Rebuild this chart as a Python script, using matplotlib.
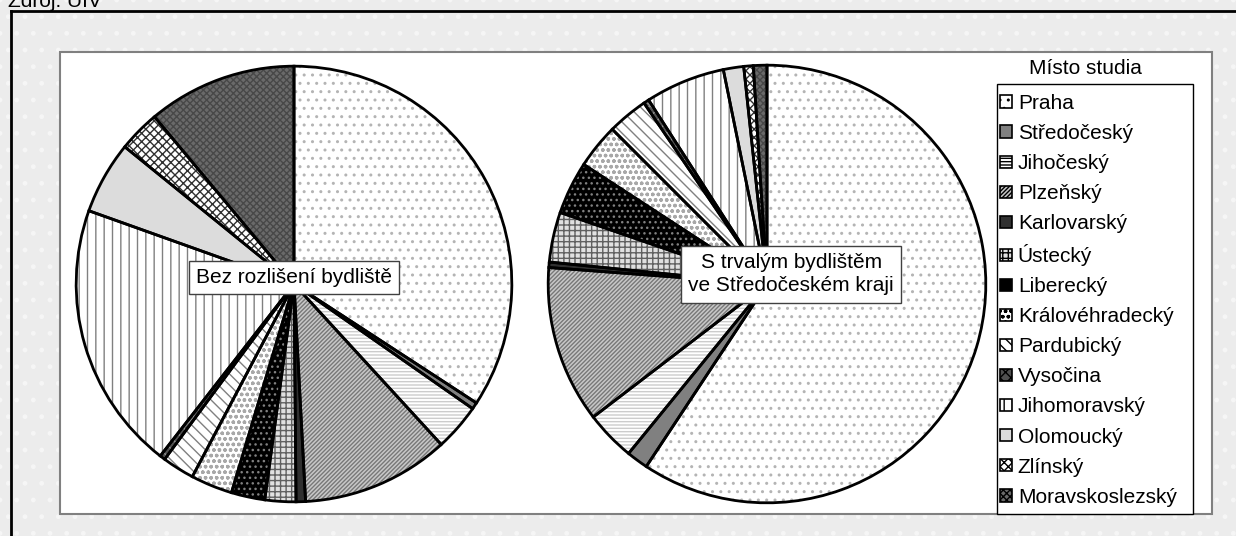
import matplotlib.pyplot as plt
from matplotlib.patches import Rectangle, Patch
from matplotlib.lines import Line2D

plt.rcParams['font.family'] = ['Liberation Sans', 'DejaVu Sans']
plt.rcParams['hatch.linewidth'] = 1.0

# regions (Místo studia)
regions = ['Praha', 'Středočeský', 'Jihočeský', 'Plzeňský', 'Karlovarský',
           'Ústecký', 'Liberecký', 'Královéhradecký', 'Pardubický', 'Vysočina',
           'Jihomoravský', 'Olomoucký', 'Zlínský', 'Moravskoslezský']
# shares in %
all_students = [34.3, 0.5, 3.5, 11.0, 0.7, 2.3, 2.5, 3.1, 2.4, 0.4,
                20.0, 5.4, 3.1, 11.1]
stredocesky = [59.3, 1.6, 3.7, 11.6, 0.4, 3.7, 3.9, 3.3, 3.0, 0.4,
               5.9, 1.5, 0.7, 1.0]

# face, hatch, hatch colour for each region
STYLES = [
    ('white',   '..',       '#b4b4b4'),
    ('#808080', None,       '#808080'),
    ('white',   '-----',    '#cccccc'),
    ('#c8c8c8', '////////', '#787878'),
    ('#303030', None,       '#303030'),
    ('#e0e0e0', '+++',      '#606060'),
    ('black',   '...',      '#808080'),
    ('white',   'ooo',      '#a8a8a8'),
    ('white',   '\\\\\\',   '#808080'),
    ('#505050', 'xxx',      '#909090'),
    ('white',   '||',       '#808080'),
    ('#dcdcdc', None,       '#dcdcdc'),
    ('white',   'xxxx',     '#303030'),
    ('#6a6a6a', 'xxxxx',    '#484848'),
]

W, H = 1236, 536
fig = plt.figure(figsize=(W / 100, H / 100), dpi=100)
fig.patch.set_facecolor('#ececec')

def fx(x):
    return x / W

def fy(y):
    return 1 - y / H

# dotted background, outer frame (top and left only visible) and plot area
fig.patches.append(Rectangle((0, 0), 1, 1, transform=fig.transFigure,
                             facecolor='#ececec', edgecolor='#f6f6f6',
                             hatch='.', lw=0, zorder=0))
fig.add_artist(Line2D([fx(11), 1.0], [fy(11), fy(11)], color='black', lw=2,
                      transform=fig.transFigure, zorder=1))
fig.add_artist(Line2D([fx(11), fx(11)], [fy(11), 0.0], color='black', lw=2,
                      transform=fig.transFigure, zorder=1))
fig.patches.append(Rectangle((fx(60), fy(514)), fx(1212 - 60), (514 - 52) / H,
                             transform=fig.transFigure, facecolor='white',
                             edgecolor='#808080', lw=1.5, zorder=1))

fig.text(fx(8), fy(7), 'Zdroj: ÚIV', fontsize=15, va='baseline', ha='left')


def draw_pie(cx, cy, r, values, label, lx, ly):
    ax = fig.add_axes([fx(cx - r), fy(cy + r), 2 * r / W, 2 * r / H])
    ax.set_zorder(2)
    wedges, _ = ax.pie(values, startangle=90, counterclock=False, radius=1,
                       wedgeprops=dict(linewidth=0))
    for w, (fc, h, hc) in zip(wedges, STYLES):
        w.set_facecolor(fc)
        w.set_edgecolor(hc)
        if h:
            w.set_hatch(h)
    ax.pie(values, startangle=90, counterclock=False, radius=1,
           wedgeprops=dict(fill=False, edgecolor='black', linewidth=2))
    ax.set_xlim(-1.01, 1.01)
    ax.set_ylim(-1.01, 1.01)
    ax.set_axis_off()
    ax.text(lx, ly, label, ha='center', va='center', fontsize=15,
            linespacing=1.3,
            bbox=dict(boxstyle='square,pad=0.35', facecolor='white',
                      edgecolor='#404040', lw=1))
    return ax


draw_pie(294, 284, 220, all_students, 'Bez rozlišení bydliště', 0.0, 0.03)
draw_pie(767, 284, 221, stredocesky, 'S trvalým bydlištěm\nve Středočeském kraji',
         0.11, 0.045)

# legend
fig.patches.append(Rectangle((fx(997), fy(514)), fx(1193 - 997), (514 - 84) / H,
                             transform=fig.transFigure, facecolor='white',
                             edgecolor='black', lw=1, zorder=3))
fig.text(fx(1085), fy(68), 'Místo studia', fontsize=15, ha='center', va='center')
handles = [Patch(facecolor=fc, edgecolor='black', hatch=h, lw=1.2)
           for fc, h, hc in STYLES]
leg = fig.legend(handles, regions, loc='upper left',
                 bbox_to_anchor=(fx(998), fy(92)), frameon=False, fontsize=15,
                 handlelength=0.55, handleheight=0.55, handletextpad=0.3,
                 labelspacing=0.53, borderaxespad=0, borderpad=0.1)
leg.set_zorder(4)

fig.savefig('out.png', dpi=100, facecolor=fig.get_facecolor())
